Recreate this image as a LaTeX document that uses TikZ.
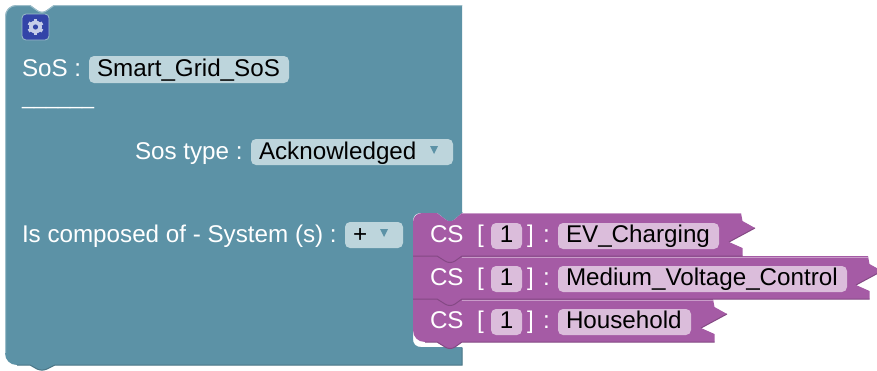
\documentclass[tikz,border=0pt]{standalone}
\usepackage{fontspec}
\setmainfont{Liberation Sans}
\definecolor{bluebk}{HTML}{5C92A6}
\definecolor{bluehi}{HTML}{9DBECA}
\definecolor{bluedk}{HTML}{4A7585}
\definecolor{bluepill}{HTML}{BDD5DC}
\definecolor{bluetri}{HTML}{5C92A6}
\definecolor{purbk}{HTML}{A55BA5}
\definecolor{purhi}{HTML}{C99BC9}
\definecolor{purdk}{HTML}{844984}
\definecolor{purpill}{HTML}{DBBDDB}
\definecolor{iconbg}{HTML}{3344A8}
\definecolor{iconfg}{HTML}{C6CDE9}
\tikzset{
  x=1pt,y=-1pt,
  txt/.style={inner sep=0pt,outer sep=0pt,anchor=base west,font=\fontsize{24.2}{24}\selectfont},
  wtxt/.style={txt,text=white},
  ktxt/.style={txt,text=black},
  bluefield/.style={fill=bluepill,rounded corners=5pt,draw=none},
  purfield/.style={fill=purpill,rounded corners=5pt,draw=none},
  tri/.style={fill=bluetri,draw=none},
  purblock/.style={fill=purbk,draw=none},
  hiline/.style={draw=purhi,line width=0.9pt},
  dkline/.style={draw=purdk,line width=1pt},
}
% right-hand side of a CS block: #1 top y, #2 right x
\newcommand{\csright}[2]{(#2,#1) -- ({#2+1.5},{#1+8}) -- ({#2+14},{#1+15}) -- ({#2-12},{#1+29}) -- ({#2+1.5},{#1+35}) -- ({#2+1.5},{#1+43})}
% bump below a block whose bottom edge is at y=#1, running right to left
\newcommand{\csbump}[1]{(462,#1) -- (455,{#1+5}) .. controls (452,{#1+7}) and (448,{#1+7}) .. (445,{#1+5}) -- (437,#1)}
% complete label row: #1 row id, #2 top y, #3 field right x, #4 name
\newcommand{\csrow}[4]{%
  \node[wtxt] (cs#1) at (430,{#2+29}) {CS};
  \node[wtxt] (ob#1) at (477,{#2+29}) {[};
  \path[purfield] (491,{#2+10}) rectangle (522,{#2+36});
  \node[ktxt,anchor=base] (num#1) at (506.5,{#2+29}) {1};
  \node[wtxt] (cb#1) at (527,{#2+29}) {]};
  \node[wtxt] (col#1) at (543,{#2+29}) {:};
  \path[purfield] (558,{#2+10}) rectangle (#3,{#2+36});
  \node[ktxt] (name#1) at (566,{#2+29}) {#4};
}
\begin{document}
\begin{tikzpicture}
\useasboundingbox (0,0) rectangle (877,370);
\fill[white] (0,0) rectangle (877,370);
% teal block
\path[fill=bluebk] (5,17) .. controls (5,10) and (10,5) .. (17,5) -- (30,5) -- (37,10) .. controls (40,12.5) and (44,12.5) .. (47,10) -- (54,5) -- (462,5) -- (462,213) -- (421,213) .. controls (416,213) and (413,216) .. (413,221) -- (413,339) .. controls (413,344) and (416,347) .. (421,347) -- (462,347) -- (462,365) -- (55,365) -- (47,369) .. controls (44,370.5) and (40,370.5) .. (37,369) -- (30,365) -- (17,365) .. controls (10,365) and (5,360) .. (5,353) -- cycle;
\draw[bluehi,line width=1pt] (5.5,353) -- (5.5,17) .. controls (5.5,10) and (10,5.5) .. (17,5.5) -- (30,5.5) -- (37,10.5) .. controls (40,13) and (44,13) .. (47,10.5) -- (54,5.5) -- (462,5.5);
\draw[bluedk,line width=1pt] (462,347.5) -- (462,365) -- (55,365) -- (47,369) .. controls (44,370.5) and (40,370.5) .. (37,369) -- (30,365) -- (17,365);
% tab of the teal input, seen in the first CS notch
\path[fill=bluebk] (436,212) -- (463,212) -- (455,219) .. controls (452,222) and (448,222) .. (445,219) -- cycle;
% icon
\path[fill=iconbg,draw=bluehi,line width=0.8pt,rounded corners=4pt] (22,14) rectangle (49,40);
\foreach \a in {0,60,...,300}{\draw[iconfg,line width=3.4pt] (35.5,27) -- ++(\a+30:8);}
\fill[iconfg] (35.5,27) circle[radius=6.5];
\fill[iconbg] (35.5,27) circle[radius=2.6];
% teal block labels
\node[wtxt] (sos) at (22,76) {SoS :};
\path[bluefield] (89,56) rectangle (289,83);
\node[ktxt] (sosname) at (97,76) {Smart\_Grid\_SoS};
\node[wtxt,font=\fontsize{21.6}{24}\selectfont] (rule) at (22,104) {\_\_\_\_\_\_};
\node[wtxt] (sostype) at (135,159) {Sos type :};
\path[bluefield] (251,139) rectangle (453,165);
\node[ktxt] (ack) at (259,159) {Acknowledged};
\path[tri] (430,146) -- (438,146) -- (434,154) -- cycle;
\node[wtxt] (comp) at (22,242) {Is composed of - System (s) :};
\path[bluefield] (345,222) rectangle (403,248);
\node[ktxt] (plus) at (353,242) {+};
\path[tri] (380,229) -- (388,229) -- (384,237) -- cycle;
% CS block 3
\path[purblock] (413,299) -- (462,299) -- \csright{299}{713} -- \csbump{342} -- (425,342) .. controls (418,342) and (413,337) .. (413,330) -- cycle;
\draw[dkline] (714.5,342) -- \csbump{342} -- (425,342);
\draw[hiline] (462,300) -- (713,300);
% CS block 2
\path[purblock] (413,256) -- (462,256) -- \csright{256}{868} -- \csbump{299} -- (413,299) -- cycle;
\draw[dkline] (869.5,299) -- \csbump{299} -- (413,299);
\draw[hiline] (462,257) -- (868,257);
% CS block 1
\path[purblock] (413,222) .. controls (413,217) and (417,213) .. (422,213) -- (437,213) -- (445,219) .. controls (448,222) and (452,222) .. (455,219) -- (462,213) -- \csright{213}{741} -- \csbump{256} -- (413,256) -- cycle;
\draw[dkline] (742.5,256) -- \csbump{256} -- (413,256);
\draw[hiline] (462,213.5) -- (741,213.5);
\draw[draw=purdk,line width=1pt] (755,228) -- (729,242) (882,271) -- (856,285) (727,314) -- (701,328);
% CS labels
\csrow{a}{213}{719}{EV\_Charging}
\csrow{b}{256}{847}{Medium\_Voltage\_Control}
\csrow{c}{299}{691}{Household}
\end{tikzpicture}
\end{document}
